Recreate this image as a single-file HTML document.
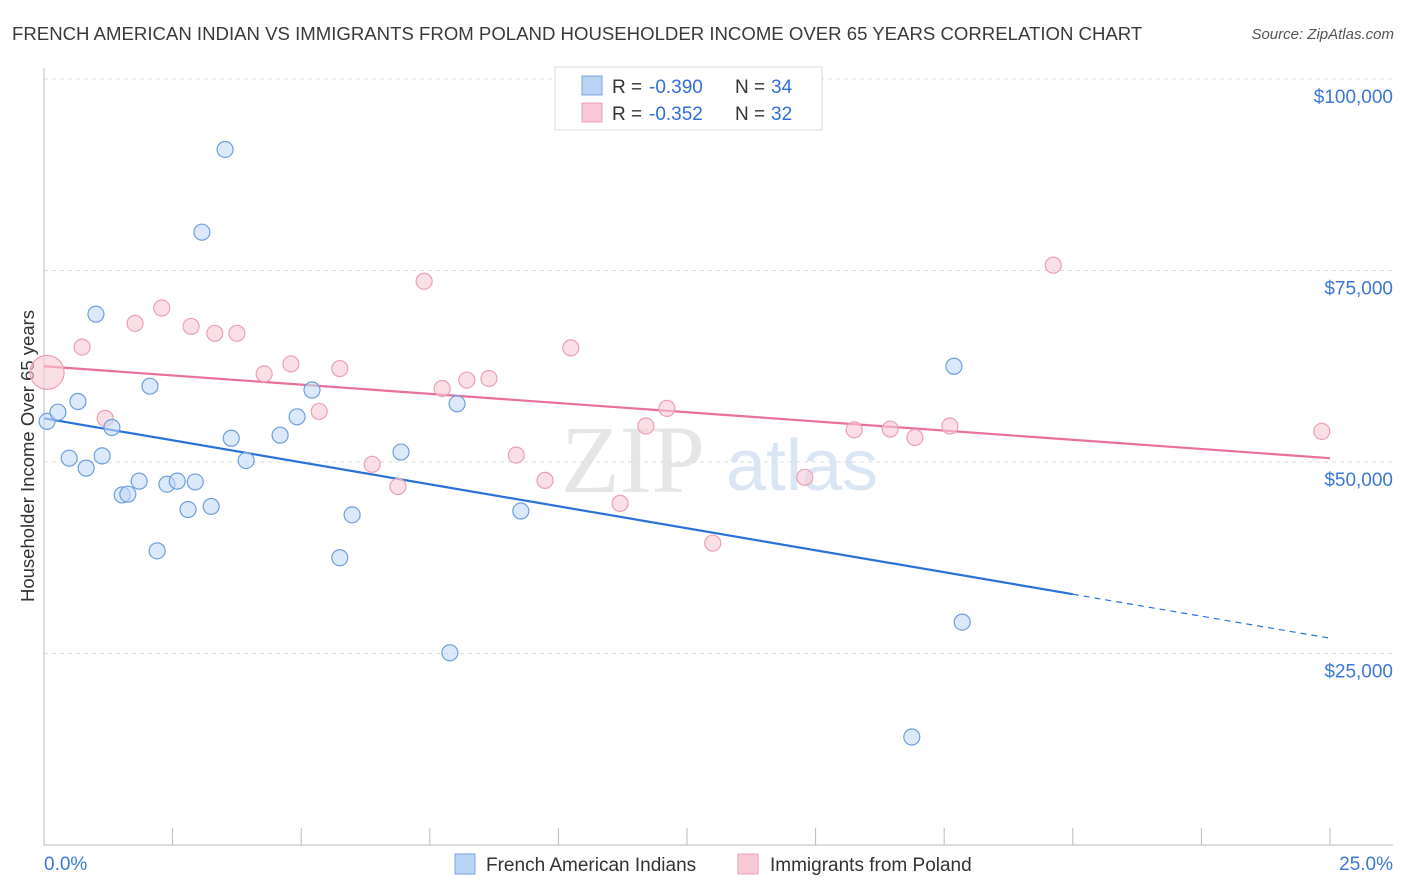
<!DOCTYPE html>
<html><head><meta charset="utf-8"><style>
body{margin:0;background:#fff;font-family:"Liberation Sans",sans-serif;}
svg{display:block}
</style></head><body>
<svg id="chart" width="1406" height="892" viewBox="0 0 1406 892">
<text x="12" y="40" font-size="18.6" fill="#3a3a3a">FRENCH AMERICAN INDIAN VS IMMIGRANTS FROM POLAND HOUSEHOLDER INCOME OVER 65 YEARS CORRELATION CHART</text>
<text x="1394" y="39" font-size="15" fill="#555" font-style="italic" text-anchor="end">Source: ZipAtlas.com</text>
<text transform="translate(34,456) rotate(-90)" font-size="18.5" fill="#333" text-anchor="middle">Householder Income Over 65 years</text>
<g>
<text x="633" y="492" font-size="96" fill="#e6e6e6" font-family="Liberation Serif,serif" text-anchor="middle">ZIP</text>
<text x="802" y="490" font-size="72" fill="#dbe6f5" text-anchor="middle">atlas</text>
</g>
<g id="grid"></g>
<g id="axes"></g>
<g id="lines"></g>
<g id="points"></g>
<g>
<rect x="555" y="67" width="267" height="63" fill="#fff" stroke="#ddd"/>
<rect x="582" y="76" width="20" height="19" fill="#b9d3f5" stroke="#7aa6e0"/>
<text x="612" y="93" font-size="19" fill="#333">R =</text>
<text x="649" y="93" font-size="19" fill="#2f6fd6">-0.390</text>
<text x="735" y="93" font-size="19" fill="#333">N =</text>
<text x="771" y="93" font-size="19" fill="#2f6fd6">34</text>
<rect x="582" y="103" width="20" height="19" fill="#f9c9d7" stroke="#eca0b7"/>
<text x="612" y="120" font-size="19" fill="#333">R =</text>
<text x="649" y="120" font-size="19" fill="#2f6fd6">-0.352</text>
<text x="735" y="120" font-size="19" fill="#333">N =</text>
<text x="771" y="120" font-size="19" fill="#2f6fd6">32</text>
</g>
<g>
<rect x="455" y="854" width="20" height="20" fill="#b9d3f5" stroke="#7aa6e0"/>
<text x="486" y="871" font-size="19" fill="#333">French American Indians</text>
<rect x="738" y="854" width="20" height="20" fill="#f9c9d7" stroke="#eca0b7"/>
<text x="770" y="871" font-size="19" fill="#333">Immigrants from Poland</text>
</g>
</svg>
<script>
const yTicks=[25000,50000,75000,100000];
const yTickLabels=["$25,000","$50,000","$75,000","$100,000"];
const xTickLabels=["0.0%","25.0%"];
const blueX=[0.06,0.27,1.01,0.66,0.49,0.82,1.13,1.32,1.52,1.63,1.85,2.06,2.20,2.39,2.59,2.80,2.94,3.07,3.25,3.52,3.64,3.93,4.59,4.92,5.21,5.75,5.99,6.94,7.89,8.03,9.27,16.87,17.69,17.85];
const blueY=[55300,56500,69300,57900,50500,49200,50800,54500,45700,45800,47500,59900,38400,47100,47500,43800,47400,80000,44200,90800,53100,50200,53500,55900,59400,37500,43100,51300,25100,57600,43600,14100,62500,29100];
const pinkX=[0.06,0.74,1.19,1.77,2.29,2.86,3.32,3.75,4.28,4.80,5.35,5.75,6.38,6.88,7.39,7.74,8.22,8.65,9.18,9.74,10.24,11.20,11.70,12.11,13.0,14.79,15.75,16.45,16.93,17.61,19.62,24.84];
const pinkY=[61700,65000,55700,68100,70100,67700,66800,66800,61500,62800,56600,62200,49700,46800,73600,59600,60700,60900,50900,47600,64900,44600,54700,57000,39400,48000,54200,54300,53200,54700,75700,54000];
const blueTrend=[55700,27000];
const pinkTrend=[62500,50500];
const NS="http://www.w3.org/2000/svg";
const X=p=>44+p*51.44, Y=v=>845-v/25000*191.5;
function mk(tag,attrs,parent){const e=document.createElementNS(NS,tag);for(const k in attrs)e.setAttribute(k,attrs[k]);document.getElementById(parent).appendChild(e);return e;}
yTicks.forEach((t,i)=>{
 const g=mk('line',{x1:44,x2:1393,y1:Y(t),y2:Y(t),stroke:'#ddd','stroke-dasharray':'4,4'},'grid');
 
 
 const l=mk('text',{x:1393,y:Y(t)+24,'font-size':19,fill:'#3b78d8','text-anchor':'end'},'grid');
 
 
 l.textContent=yTickLabels[i];
});
const ax=mk('line',{x1:44,x2:44,y1:68,y2:845,stroke:'#bbb'},'axes');


const bx=mk('line',{x1:44,x2:1393,y1:845,y2:845,stroke:'#bbb'},'axes');


for(let i=0;i<=10;i++){const t=mk('line',{x1:X(i*2.5),x2:X(i*2.5),y1:828,y2:845,stroke:'#bbb'},'axes');
 
 }
[[44,'start'],[1393,'end']].forEach((a,i)=>{const t=mk('text',{x:a[0],y:870,'font-size':19,fill:'#3b78d8','text-anchor':a[1]},'axes');
 
 
 t.textContent=xTickLabels[i];});
function trend(tr,color,name,solidEnd){
 const f=p=>tr[0]+(tr[1]-tr[0])*p/25;
 const a=mk('line',{x1:X(0),y1:Y(f(0)),x2:X(solidEnd),y2:Y(f(solidEnd)),stroke:color,'stroke-width':2.2},'lines');
 
 
 if(solidEnd<25){const b=mk('line',{x1:X(solidEnd),y1:Y(f(solidEnd)),x2:X(25),y2:Y(f(25)),stroke:color,'stroke-width':1.2,'stroke-dasharray':'6,5'},'lines');
 
 }
}
function pts(xs,ys,fill,stroke,name){xs.forEach((x,i)=>{
 const r=(i===0&&name==='poland-point')?17:8;
 const c=mk('circle',{cx:X(x),cy:Y(ys[i]),r:r,fill:fill,stroke:stroke,'stroke-width':1.2,'fill-opacity':0.6},'points');
 
 });}
pts(pinkX,pinkY,'#f9c9d7','#eca0b7','poland-point');
pts(blueX,blueY,'#c4daf6','#6f9fdc','french-point');
trend(blueTrend,'#2a72d8','french-trend-line',20);
trend(pinkTrend,'#e8709a','poland-trend-line',25);
</script>
</body></html>
